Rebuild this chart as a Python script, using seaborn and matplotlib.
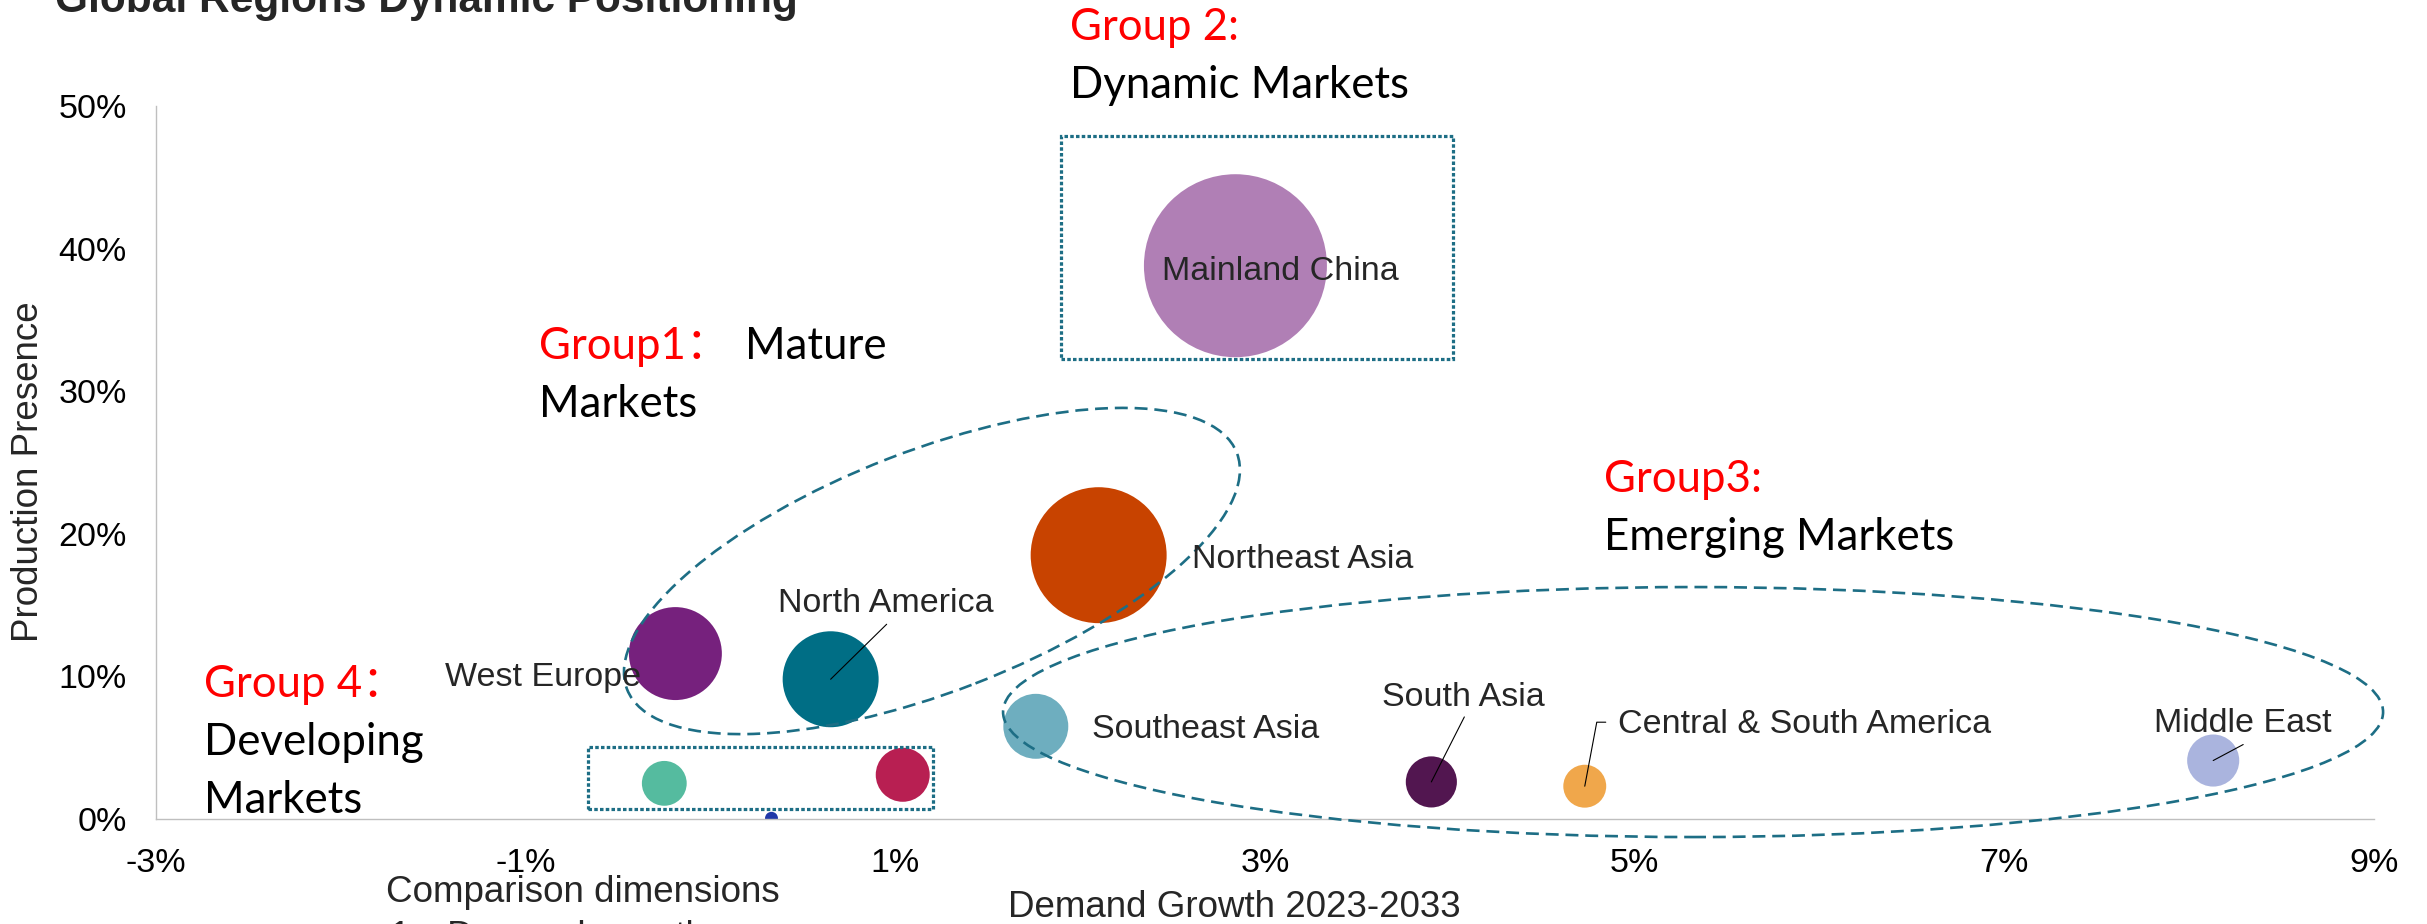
import matplotlib
matplotlib.use("Agg")
import pandas as pd
import seaborn as sns
import matplotlib.pyplot as plt
from matplotlib.patches import Ellipse, Rectangle
from matplotlib.transforms import ScaledTranslation
from matplotlib.ticker import FuncFormatter, FixedLocator

# ---- data -------------------------------------------------------------
regions = ["Mainland China", "Northeast Asia", "North America", "West Europe",
           "Southeast Asia", "South Asia", "Central & South America", "Middle East",
           "Central & Eastern Europe", "Africa", "Oceania"]
demand_growth = [2.84, 2.10, 0.65, -0.19, 1.76, 3.90, 4.73, 8.13, -0.25, 1.04, 0.33]      # %
production_presence = [38.8, 18.5, 9.8, 11.6, 6.5, 2.6, 2.3, 4.1, 2.5, 3.1, 0.05]       # %
market_volume = [100, 55.2, 27.5, 25.8, 12.6, 7.8, 5.5, 8.1, 6.0, 8.7, 0.5]            # index
region_colors = ["#B07FB5", "#C84300", "#006E85", "#76217D", "#6EAEBF", "#521650",
                 "#F0A74B", "#AAB4DE", "#55BB9F", "#B81F52", "#2038A8"]
labelled = ["Mainland China", "Northeast Asia", "North America", "West Europe",
            "Southeast Asia", "South Asia", "Central & South America", "Middle East"]

x_ticks = [-3, -1, 1, 3, 5, 7, 9]
y_ticks = [0, 10, 20, 30, 40, 50]

df = pd.DataFrame({"region": regions, "growth": demand_growth,
                   "presence": production_presence, "volume": market_volume})

# ---- style ------------------------------------------------------------
sns.set_theme(style="white")
plt.rcParams["font.family"] = ["Liberation Sans", "Noto Sans CJK SC"]
GROUP_FONT = ["Lato", "Noto Sans CJK SC"]
LINE_TEAL = "#1D6E85"

W, H, DPI = 2427, 924, 100
fig = plt.figure(figsize=(W / DPI, H / DPI), dpi=DPI)
ax = fig.add_axes([156 / W, 1 - 819 / H, (2374 - 156) / W, (819 - 106) / H])

MAX_AREA = (183 * 72 / DPI) ** 2   # marker area (pt^2) of the largest bubble
sns.scatterplot(data=df, x="growth", y="presence", hue="region",
                palette=dict(zip(regions, region_colors)),
                size="volume", sizes=(0, MAX_AREA), size_norm=(0, 100),
                linewidth=0, alpha=1, legend=False, ax=ax, zorder=2)

ax.set_xlim(-3, 9)
ax.set_ylim(0, 50)
ax.xaxis.set_major_locator(FixedLocator(x_ticks))
ax.yaxis.set_major_locator(FixedLocator(y_ticks))
pct = FuncFormatter(lambda v, _: f"{v:.0f}%")
ax.xaxis.set_major_formatter(pct)
ax.yaxis.set_major_formatter(pct)
ax.tick_params(axis="both", length=0, labelsize=24.5, colors="black")
ax.tick_params(axis="x", pad=21)
ax.tick_params(axis="y", pad=21)
ax.grid(False)
for side in ("top", "right"):
    ax.spines[side].set_visible(False)
for side in ("left", "bottom"):
    ax.spines[side].set_color("#BFBFBF")
    ax.spines[side].set_linewidth(1.0)

ax.set_xlabel("Demand Growth 2023-2033", fontsize=26.5, va="baseline")
ax.xaxis.set_label_coords(0.4862, (819 - 917) / 713)
ax.set_ylabel("Production Presence", fontsize=26.5, va="center")
ax.yaxis.set_label_coords((29 - 156) / 2218, (819 - 471.5) / 713)

fig.text(55 / W, 1 - 12 / H, "Global Regions Dynamic Positioning",
         fontsize=30.5, fontweight="bold", ha="left", va="baseline")
fig.text(386 / W, 1 - 902 / H, "Comparison dimensions", fontsize=26.5,
         ha="left", va="baseline")
fig.text(390 / W, 1 - 947 / H, "1、Demand growth", fontsize=26.5,
         ha="left", va="baseline")


def anchored(x, y):
    """Transform with inch units, centred on a data point."""
    return fig.dpi_scale_trans + ScaledTranslation(x, y, ax.transData)


# ---- point labels and leader lines ---------------------------------------
label_offsets = {   # pixel offset of the label baseline start from the bubble centre
    "Mainland China": (-73, -14),
    "Northeast Asia": (93, -13),
    "North America": (-53, 67),
    "West Europe": (-230, -32),
    "Southeast Asia": (56, -12),
    "South Asia": (-49, 76),
    "Central & South America": (33, 53),
    "Middle East": (-59, 29),
}
leaders = {
    "North America": [(56, 55), (0, 0)],
    "South Asia": [(33, 65), (0, 0)],
    "Central & South America": [(21, 64), (12, 64), (0, 0)],
    "Middle East": [(30, 16), (0, 0)],
}
for name, gx, gy in zip(regions, demand_growth, production_presence):
    if name not in labelled:
        continue
    dx, dy = label_offsets[name]
    ax.annotate(name, xy=(gx, gy), xytext=(dx, dy), textcoords="offset pixels",
                fontsize=24.5, ha="left", va="baseline", zorder=5,
                annotation_clip=False)
    if name in leaders:
        pts = leaders[name]
        ax.plot([p[0] / DPI for p in pts], [p[1] / DPI for p in pts],
                color="black", lw=0.8, transform=anchored(gx, gy),
                clip_on=False, zorder=5)

# ---- group outlines -----------------------------------------------------
dash_kw = dict(fill=False, edgecolor=LINE_TEAL, linewidth=1.9,
               linestyle=(0, (4.9, 2.6)), clip_on=False, zorder=3)
dot_kw = dict(fill=False, edgecolor=LINE_TEAL, linewidth=2.3,
              linestyle=(0, (1.1, 0.7)), clip_on=False, zorder=3)

ax.add_patch(Ellipse((0, 0), 6.54, 2.41, angle=21.2,
                     transform=anchored(1.198, 17.39), **dash_kw))
ax.add_patch(Ellipse((0, 0), 13.80, 2.50, angle=0,
                     transform=anchored(5.316, 7.50), **dash_kw))
ax.add_patch(Rectangle((1.896, 32.26), 4.017 - 1.896, 47.9 - 32.26, **dot_kw))
ax.add_patch(Rectangle((-0.663, 0.70), 1.204 + 0.663, 5.05 - 0.70, **dot_kw))

# ---- group captions -----------------------------------------------------
gsize = 31.5
cap_kw = dict(fontsize=gsize, family=GROUP_FONT, ha="left", va="baseline",
              zorder=5, clip_on=False)
ax.text(1.945, 54.63, "Group 2:", color="#FF0000", **cap_kw)
ax.text(1.945, 50.56, "Dynamic Markets", color="black", **cap_kw)
ax.text(-0.928, 32.26, "Group1：", color="#FF0000", **cap_kw)
ax.text(0.187, 32.26, "Mature", color="black", **cap_kw)
ax.text(-0.928, 28.19, "Markets", color="black", **cap_kw)
ax.text(4.834, 22.93, "Group3:", color="#FF0000", **cap_kw)
ax.text(4.834, 18.86, "Emerging Markets", color="black", **cap_kw)
ax.text(-2.740, 8.56, "Group 4：", color="#FF0000", **cap_kw)
ax.text(-2.740, 4.49, "Developing", color="black", **cap_kw)
ax.text(-2.740, 0.42, "Markets", color="black", **cap_kw)

fig.savefig("out.png", dpi=DPI)
